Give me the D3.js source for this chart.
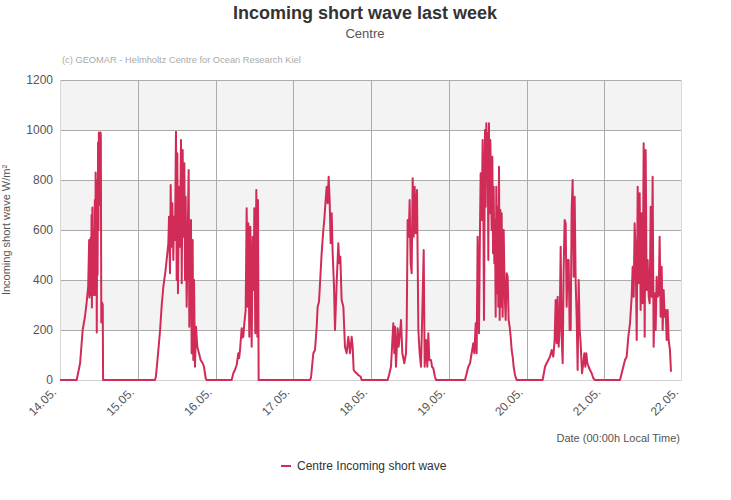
<!DOCTYPE html>
<html>
<head>
<meta charset="utf-8">
<script src="https://cdn.jsdelivr.net/npm/d3@7"></script>
<style>
  body { margin: 0; background: #fff; }
  svg { font-family: "Liberation Sans", Arial, sans-serif; display: block; }
</style>
</head>
<body>
<svg id="chart" width="731" height="500"></svg>
<script>
// one array per day: [hour of day, W/m²]
const day14 = [[0,0],[5.15,0],[6.2,67],[7.0,200],[7.7,253],[8.2,307],[8.7,373],[9.0,560],[9.1,330],[9.25,520],[9.4,340],[9.5,570],[9.6,400],[9.75,660],[9.85,290],[10.0,690],[10.1,350],[10.25,560],[10.4,340],[10.5,600],[10.6,460],[10.75,720],[10.9,340],[11.0,830],[11.1,400],[11.25,800],[11.35,190],[11.5,760],[11.6,420],[11.75,950],[11.85,600],[12.0,990],[12.1,700],[12.25,980],[12.4,820],[12.5,990],[12.6,980],[12.75,230],[13.0,310],[13.2,300],[13.3,0]];
const day15 = [[5.3,0],[5.6,13],[6.3,110],[6.9,200],[7.4,300],[7.9,373],[8.6,440],[9.45,547],[9.65,653],[9.95,427],[10.16,780],[10.36,533],[10.67,707],[10.98,480],[11.19,653],[11.5,560],[11.8,993],[12.01,400],[12.22,907],[12.42,347],[12.73,773],[13.04,533],[13.35,960],[13.56,387],[13.86,920],[14.07,573],[14.38,867],[14.58,400],[14.79,733],[15.1,293],[15.41,573],[15.72,840],[15.92,213],[16.13,400],[16.44,640],[16.64,107],[16.95,560],[17.15,80],[17.36,400],[17.67,53],[17.98,213],[18.39,133],[18.9,107],[19.42,80],[20.04,67],[20.45,53],[20.96,7],[21.27,0]];
const day16 = [[4.99,0],[5.5,27],[6.0,40],[6.53,60],[7.05,107],[7.3,87],[7.56,120],[8.08,207],[8.3,170],[8.59,173],[8.9,227],[9.31,280],[9.62,687],[9.93,293],[10.13,627],[10.44,173],[10.75,613],[11.16,133],[11.47,573],[11.78,360],[11.98,687],[12.29,187],[12.6,760],[12.91,173],[13.12,720],[13.32,0]];
const day17 = [[5.17,0],[5.48,10],[6.2,107],[6.71,120],[7.23,213],[7.54,293],[7.95,313],[8.26,387],[8.77,507],[9.28,600],[9.59,640],[10.0,720],[10.31,773],[10.62,707],[10.93,813],[11.24,720],[11.55,547],[11.86,667],[12.17,507],[12.58,373],[12.89,200],[13.4,387],[13.91,547],[14.22,467],[14.53,493],[14.94,320],[15.46,293],[15.97,133],[16.49,107],[17.0,173],[17.52,107],[18.03,173],[18.34,133],[18.65,40],[19.06,33],[20.09,20],[20.81,13],[21.12,0]];
const day18 = [[5.14,0],[5.56,20],[6.17,53],[6.89,227],[7.2,107],[7.41,213],[7.72,53],[8.23,207],[8.54,133],[8.95,187],[9.26,240],[9.67,107],[10.29,67],[10.8,107],[11.01,213],[11.32,640],[11.63,573],[11.93,720],[12.24,467],[12.55,427],[12.86,807],[13.17,573],[13.48,773],[13.79,587],[14.2,760],[14.61,200],[15.02,107],[15.43,53],[15.84,267],[16.26,520],[16.56,53],[16.98,160],[17.39,53],[17.7,187],[18.0,80],[18.52,80],[18.83,53],[19.24,47],[19.75,13],[20.06,0]];
const day19 = [[5.02,0],[5.53,27],[6.04,53],[6.56,67],[7.07,107],[7.59,147],[7.9,107],[8.31,227],[8.62,107],[8.92,573],[9.34,187],[9.65,613],[9.85,827],[10.16,640],[10.47,960],[10.67,707],[10.88,240],[11.19,1000],[11.4,693],[11.6,1027],[11.81,840],[12.01,987],[12.22,480],[12.42,1027],[12.63,667],[12.83,960],[13.04,800],[13.25,600],[13.45,893],[13.66,507],[13.86,773],[14.07,467],[14.27,640],[14.48,253],[14.69,773],[14.89,347],[15.1,693],[15.3,293],[15.51,853],[15.72,240],[15.92,680],[16.13,293],[16.33,667],[16.64,253],[16.95,600],[17.26,347],[17.57,240],[17.88,427],[18.18,413],[18.49,240],[18.8,213],[19.11,173],[19.42,120],[19.73,93],[20.04,53],[20.45,20],[20.76,7],[21.0,0]];
const day20 = [[4.99,0],[5.71,53],[6.22,67],[6.74,80],[7.25,93],[7.77,120],[8.28,93],[8.69,160],[9.0,320],[9.31,147],[9.62,333],[9.93,133],[10.24,213],[10.55,533],[10.85,173],[11.16,67],[11.47,440],[11.78,640],[12.09,627],[12.4,293],[12.71,480],[13.01,480],[13.32,200],[13.63,200],[13.94,680],[14.25,800],[14.56,413],[14.87,733],[15.18,387],[15.48,253],[15.79,40],[16.1,400],[16.41,200],[16.72,147],[17.13,27],[17.54,67],[17.85,107],[18.16,53],[18.47,107],[18.78,67],[19.19,53],[19.6,40],[20.11,27],[20.63,7],[21.14,0]];
const day21 = [[4.86,0],[5.38,27],[5.89,53],[6.4,80],[6.92,93],[7.43,173],[7.95,227],[8.46,333],[8.77,453],[9.08,333],[9.39,627],[9.7,507],[10.01,160],[10.31,773],[10.62,387],[10.93,747],[11.24,280],[11.55,667],[11.86,307],[12.17,947],[12.48,173],[12.78,920],[13.09,360],[13.4,480],[13.71,333],[14.02,307],[14.33,693],[14.64,333],[14.94,813],[15.25,133],[15.56,347],[15.87,200],[16.18,413],[16.49,333],[16.8,340],[17.1,573],[17.41,253],[17.72,453],[18.03,200],[18.34,360],[18.65,253],[18.96,280],[19.27,160],[19.57,280],[19.88,160],[20.29,120],[20.6,33]];

const days = [day14, day15, day16, day17, day18, day19, day20, day21];
const yTicks = [0, 200, 400, 600, 800, 1000, 1200];
const seriesName = "Centre Incoming short wave";

const svg = d3.select("#chart");
const margin = { top: 80, right: 49, bottom: 120, left: 60 };
const width = 731 - margin.left - margin.right;
const height = 500 - margin.top - margin.bottom;

const start = new Date(2024, 4, 14);
const end = d3.timeDay.offset(start, 8);

// flatten into timestamped points
const data = [];
days.forEach((day, i) => {
  const d0 = d3.timeDay.offset(start, i);
  day.forEach(([h, v]) => data.push({ t: d3.timeMinute.offset(d0, Math.round(h * 60)), v }));
});

const x = d3.scaleTime().domain([start, end]).range([0, width]);
const y = d3.scaleLinear().domain([0, 1200]).range([height, 0]);

const g = svg.append("g").attr("transform", `translate(${margin.left},${margin.top})`);

// alternating bands
for (let i = 0; i < yTicks.length - 1; i++) {
  if (i % 2 === 1) {
    g.append("rect")
      .attr("x", 0).attr("width", width)
      .attr("y", y(yTicks[i + 1])).attr("height", y(yTicks[i]) - y(yTicks[i + 1]))
      .attr("fill", "#f3f3f3");
  }
}

// horizontal grid
g.selectAll(".hgrid").data(yTicks.slice(1)).enter().append("line")
  .attr("x1", 0).attr("x2", width)
  .attr("y1", d => Math.round(y(d)) + 0.5).attr("y2", d => Math.round(y(d)) + 0.5)
  .attr("stroke", "#ababab").attr("stroke-width", 1);

// vertical grid at each day
const dayTicks = d3.timeDay.range(start, d3.timeDay.offset(end, 1));
g.selectAll(".vgrid").data(dayTicks.slice(1, -1)).enter().append("line")
  .attr("x1", d => Math.round(x(d)) + 0.5).attr("x2", d => Math.round(x(d)) + 0.5)
  .attr("y1", 0).attr("y2", height)
  .attr("stroke", "#ababab").attr("stroke-width", 1);

// plot frame edges
g.append("line").attr("x1", 0.5).attr("x2", 0.5).attr("y1", 0).attr("y2", height).attr("stroke", "#d8d8d8");
g.append("line").attr("x1", width - 0.5).attr("x2", width - 0.5).attr("y1", 0).attr("y2", height).attr("stroke", "#d8d8d8");
g.append("line").attr("x1", 0).attr("x2", width).attr("y1", height + 0.5).attr("y2", height + 0.5).attr("stroke", "#d0d0d0");

// y axis labels
g.selectAll(".ylab").data(yTicks).enter().append("text")
  .attr("x", -7).attr("y", d => y(d) + 4)
  .attr("text-anchor", "end")
  .attr("fill", "#555").style("font-size", "12px")
  .text(d => d);

// x axis labels
g.selectAll(".xlab").data(dayTicks.slice(0, 9)).enter().append("text")
  .attr("transform", d => `translate(${x(d) - 3},${height + 13}) rotate(-45)`)
  .attr("text-anchor", "end")
  .attr("fill", "#555").style("font-size", "12px")
  .text(d => d3.timeFormat("%d.%m.")(d));

// the series
const line = d3.line().x(d => x(d.t)).y(d => y(d.v));
g.append("path").datum(data)
  .attr("d", line)
  .attr("fill", "none")
  .attr("stroke", "#d12b57")
  .attr("stroke-width", 2)
  .attr("stroke-linejoin", "round");

// titles
svg.append("text").attr("x", 365).attr("y", 19).attr("text-anchor", "middle")
  .attr("fill", "#333").style("font-size", "18px").style("font-weight", "bold")
  .text("Incoming short wave last week");
svg.append("text").attr("x", 365).attr("y", 38).attr("text-anchor", "middle")
  .attr("fill", "#555").style("font-size", "13px")
  .text("Centre");
svg.append("text").attr("x", 62).attr("y", 63)
  .attr("fill", "#aaa").style("font-size", "9.3px")
  .text("(c) GEOMAR - Helmholtz Centre for Ocean Research Kiel");

// axis titles
svg.append("text")
  .attr("transform", `translate(10,${margin.top + height / 2}) rotate(-90)`)
  .attr("text-anchor", "middle")
  .attr("fill", "#555").style("font-size", "11px")
  .text("Incoming short wave W/m²");
svg.append("text").attr("x", 680).attr("y", 442).attr("text-anchor", "end")
  .attr("fill", "#555").style("font-size", "11px")
  .text("Date (00:00h Local Time)");

// legend
const legend = svg.append("g").attr("transform", "translate(281,466)");
legend.append("line").attr("x1", 0).attr("x2", 10).attr("y1", 0).attr("y2", 0)
  .attr("stroke", "#d12b57").attr("stroke-width", 2);
legend.append("text").attr("x", 16).attr("y", 4)
  .attr("fill", "#333").style("font-size", "12px")
  .text(seriesName);
</script>
</body>
</html>
